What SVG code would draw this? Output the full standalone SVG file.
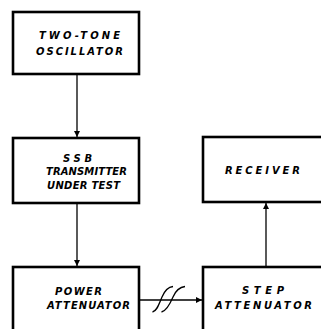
<svg xmlns="http://www.w3.org/2000/svg" width="321" height="329" viewBox="0 0 321 329">
<defs>
<marker id="arr" viewBox="0 0 10 10" refX="10" refY="5" markerWidth="6" markerHeight="6" markerUnits="userSpaceOnUse" orient="auto">
<path d="M0,0 L10,5 L0,10 Z" fill="#000"/>
</marker>
</defs>
<style>
.box{fill:#fff;stroke:#000;stroke-width:2.6}
.lbl{font-family:"DejaVu Sans","Liberation Sans",sans-serif;font-weight:bold;font-style:italic;font-size:10px;fill:#000}
.ln{fill:none;stroke:#000;stroke-width:1.3}
</style>
<rect width="321" height="329" fill="#fff"/>
<g id="connectors">
<line class="ln" x1="77" y1="74" x2="77" y2="137" marker-end="url(#arr)"/>
<line class="ln" x1="77" y1="203" x2="77" y2="266" marker-end="url(#arr)"/>
<line class="ln" x1="266" y1="267" x2="266" y2="203" marker-end="url(#arr)"/>
<line class="ln" x1="139" y1="300" x2="202" y2="300" marker-end="url(#arr)"/>
<path class="ln" d="M152.5,312 C157,311 159,304 162,297 C165,290 168,287 173,286.5"/>
<path class="ln" d="M161.5,312 C166,311 170,304 173,297 C176,290 180,287 185,286.5"/>
</g>
<g id="oscillator">
<rect class="box" x="13" y="12" width="126" height="62"/>
<text class="lbl" x="39" y="39" textLength="81" lengthAdjust="spacing">TWO-TONE</text>
<text class="lbl" x="36" y="55" textLength="87" lengthAdjust="spacing">OSCILLATOR</text>
</g>
<g id="transmitter">
<rect class="box" x="13" y="138" width="126" height="65"/>
<text class="lbl" x="63" y="162" textLength="29" lengthAdjust="spacing">SSB</text>
<text class="lbl" x="46" y="175" textLength="81" lengthAdjust="spacing">TRANSMITTER</text>
<text class="lbl" x="47" y="189" textLength="73" lengthAdjust="spacing">UNDER TEST</text>
</g>
<g id="power-attenuator">
<rect class="box" x="13" y="267" width="126" height="70"/>
<text class="lbl" x="55" y="295" textLength="47" lengthAdjust="spacing">POWER</text>
<text class="lbl" x="47" y="309" textLength="83" lengthAdjust="spacing">ATTENUATOR</text>
</g>
<g id="receiver">
<rect class="box" x="203" y="137" width="130" height="65"/>
<text class="lbl" x="225" y="174" textLength="75" lengthAdjust="spacing">RECEIVER</text>
</g>
<g id="step-attenuator">
<rect class="box" x="203" y="267" width="130" height="70"/>
<text class="lbl" x="242" y="294" textLength="42" lengthAdjust="spacing">STEP</text>
<text class="lbl" x="215" y="309" textLength="97" lengthAdjust="spacing">ATTENUATOR</text>
</g>
</svg>
